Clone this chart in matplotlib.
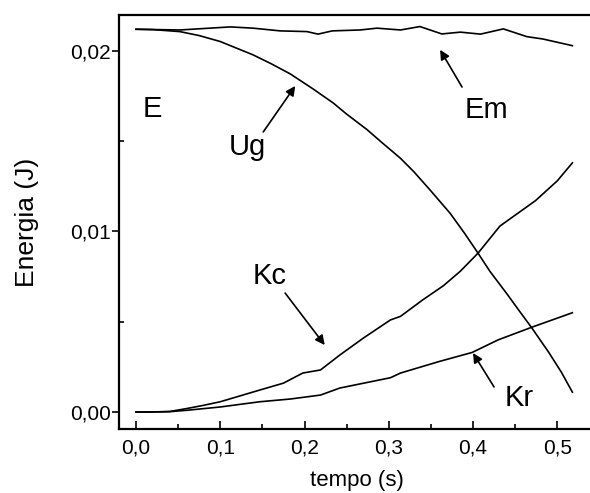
import numpy as np
import matplotlib
matplotlib.use("Agg")
import matplotlib.pyplot as plt
from matplotlib.ticker import MultipleLocator, FuncFormatter

plt.rcParams['font.family'] = ['Liberation Sans', 'DejaVu Sans']

# Energia mecanica
t_em = [0.0, 0.052, 0.112, 0.139, 0.171, 0.203, 0.216, 0.233, 0.266, 0.286,
        0.314, 0.337, 0.363, 0.385, 0.409, 0.436, 0.464, 0.483, 0.518]
em = [0.02120, 0.02116, 0.02133, 0.02126, 0.02111, 0.02107, 0.02093, 0.02111,
      0.02116, 0.02126, 0.02116, 0.02135, 0.02094, 0.02104, 0.02093, 0.02122,
      0.02079, 0.02066, 0.02029]

# Energia potencial gravitacional
t_ug = [0.0, 0.02, 0.052, 0.075, 0.1, 0.139, 0.16, 0.183, 0.21, 0.234, 0.25,
        0.274, 0.29, 0.314, 0.33, 0.349, 0.373, 0.39, 0.406, 0.42, 0.441,
        0.455, 0.470, 0.49, 0.505, 0.518]
ug = [0.02120, 0.02118, 0.02107, 0.02085, 0.02052, 0.01978, 0.01930, 0.01873,
      0.01790, 0.01712, 0.01650, 0.01565, 0.01500, 0.01405, 0.01330, 0.01230,
      0.01100, 0.00990, 0.00880, 0.00780, 0.00650, 0.00560, 0.00465, 0.00330,
      0.00220, 0.00110]

# Energia cinetica de translacao
t_kc = [0.0, 0.02, 0.04, 0.061, 0.08, 0.1, 0.147, 0.175, 0.198, 0.219, 0.242,
        0.27, 0.302, 0.314, 0.34, 0.365, 0.385, 0.406, 0.432, 0.45, 0.474, 0.5,
        0.518]
kc = [0.0, 0.0, 0.00003, 0.0002, 0.00037, 0.00057, 0.00122, 0.0016, 0.00216,
      0.00233, 0.00316, 0.0041, 0.0051, 0.0053, 0.0062, 0.0070, 0.0078, 0.0088,
      0.0103, 0.0109, 0.0117, 0.0128, 0.0138]

# Energia cinetica de rotacao
t_kr = [0.0, 0.04, 0.061, 0.1, 0.147, 0.183, 0.219, 0.242, 0.302, 0.314,
        0.36, 0.399, 0.43, 0.470, 0.518]
kr = [0.0, 0.00002, 0.0001, 0.00028, 0.00057, 0.00072, 0.00094, 0.00133,
      0.0019, 0.00216, 0.0028, 0.0033, 0.0040, 0.0047, 0.0055]

fig = plt.figure(figsize=(5.9, 4.93), dpi=100)
ax = fig.add_axes([0.2017, 0.1298, 0.807, 0.8398])

for t, e in [(t_em, em), (t_ug, ug), (t_kc, kc), (t_kr, kr)]:
    ax.plot(t, e, color='black', lw=1.2)

ax.set_xlim(-0.0202, 0.545)
ax.set_ylim(-0.00094, 0.02199)

ax.xaxis.set_major_locator(MultipleLocator(0.1))
ax.xaxis.set_minor_locator(MultipleLocator(0.05))
ax.yaxis.set_major_locator(MultipleLocator(0.01))
ax.yaxis.set_minor_locator(MultipleLocator(0.005))
ax.xaxis.set_major_formatter(FuncFormatter(lambda v, p: f"{v:.1f}".replace('.', ',')))
ax.yaxis.set_major_formatter(FuncFormatter(lambda v, p: f"{v:.2f}".replace('.', ',')))

ax.tick_params(axis='x', which='major', direction='in', length=6, width=1.2,
               labelsize=15, pad=7, top=False)
ax.tick_params(axis='x', which='minor', direction='in', length=3.5, width=1.2, top=False)
ax.tick_params(axis='y', which='major', direction='out', length=5, width=1.2,
               labelsize=15, pad=1, right=False)
ax.tick_params(axis='y', which='minor', direction='in', length=3.5, width=1.2, right=False)

for s in ax.spines.values():
    s.set_linewidth(1.6)

ax.set_xlabel('tempo (s)', fontsize=16, labelpad=9)
ax.set_ylabel('Energia (J)', fontsize=19, labelpad=22)

# rotulos e setas
labels = ['E', 'Ug', 'Em', 'Kc', 'Kr']
label_pos = [(0.019, 0.01679), (0.132, 0.01468), (0.416, 0.01673),
             (0.159, 0.00753), (0.455, 0.00078)]
arrow_tail = [(0.151, 0.01551), (0.387, 0.0180), (0.177, 0.00659), (0.425, 0.00139)]
arrow_head = [(0.189, 0.01806), (0.361, 0.02006), (0.224, 0.00371), (0.400, 0.00327)]

for lab, (x, y) in zip(labels, label_pos):
    ax.text(x, y, lab, fontsize=21, ha='center', va='center')

for tail, head in zip(arrow_tail, arrow_head):
    ax.annotate('', xy=head, xytext=tail,
                arrowprops=dict(arrowstyle='-|>', color='black', lw=1.2,
                                mutation_scale=14, shrinkA=0, shrinkB=0))

fig.savefig('out.png', dpi=100)
